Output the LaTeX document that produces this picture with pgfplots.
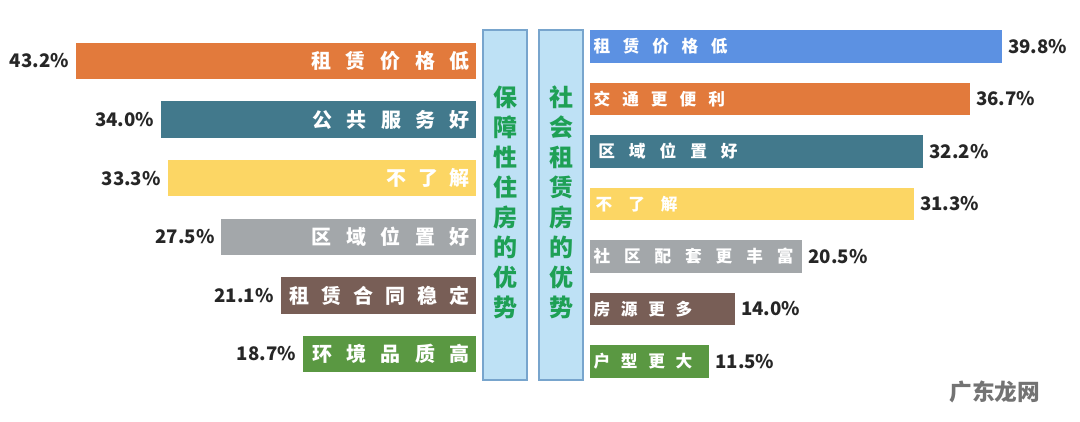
\documentclass[border=0pt]{standalone}
\usepackage{fontspec}
\setmainfont{Noto Sans CJK SC}
\usepackage{pgfplots}
\pgfplotsset{compat=1.18}

\definecolor{orangeC}{RGB}{226,122,60}
\definecolor{tealC}{RGB}{66,121,140}
\definecolor{yellowC}{RGB}{252,214,100}
\definecolor{grayC}{RGB}{163,167,170}
\definecolor{brownC}{RGB}{120,94,86}
\definecolor{greenC}{RGB}{90,152,66}
\definecolor{blueC}{RGB}{92,145,226}
\definecolor{boxfill}{RGB}{190,225,245}
\definecolor{boxdraw}{RGB}{120,165,205}
\definecolor{boxtext}{RGB}{30,160,85}

% spread characters with a gap between them
\def\spread#1#2{\def\sgap{#1}\spreadA#2\relax}
\def\spreadA#1#2{#1\ifx\relax#2\else\hspace{\sgap}\expandafter\spreadA\expandafter#2\fi}

\tikzset{
  lblL/.style={anchor=east, xshift=-4.5pt, inner sep=0pt, text=white,
    font=\fontsize{15pt}{15pt}\selectfont\bfseries},
  lblR/.style={anchor=west, xshift=2.5pt, inner sep=0pt, text=white,
    font=\fontsize{12.5pt}{12.5pt}\selectfont\bfseries},
}

\begin{document}
\begin{tikzpicture}
\path[use as bounding box] (0,0) rectangle (810pt,-315.75pt);

% left: 保障性住房
\begin{axis}[
  at={(357pt,-23.775pt)}, anchor=north east,
  scale only axis, width=347.25pt, height=263.7pt,
  xbar, bar width=27.375pt, bar shift=0pt,
  xmin=0, xmax=50, x dir=reverse,
  ymin=-0.5, ymax=5.5, y dir=reverse,
  hide axis, clip=false,
  point meta=x,
  /pgf/number format/assume math mode=true,
  nodes near coords={\pgfmathprintnumber[fixed,fixed zerofill,precision=1]{\pgfplotspointmeta}\%},
  every node near coord/.append style={anchor=east, inner sep=0pt, xshift=-5pt,
    font=\fontsize{14pt}{14pt}\selectfont\bfseries, text=black!85},
]
\addplot[fill=orangeC, draw=none] coordinates {(43.2,0)};
\addplot[fill=tealC, draw=none] coordinates {(34.0,1)};
\addplot[fill=yellowC, draw=none] coordinates {(33.3,2)};
\addplot[fill=grayC, draw=none] coordinates {(27.5,3)};
\addplot[fill=brownC, draw=none] coordinates {(21.1,4)};
\addplot[fill=greenC, draw=none] coordinates {(18.7,5)};
\node[lblL] at (axis cs:0,0) {\spread{11pt}{租赁价格低}};
\node[lblL] at (axis cs:0,1) {\spread{10.7pt}{公共服务好}};
\node[lblL] at (axis cs:0,2) {\spread{8.6pt}{不了解}};
\node[lblL] at (axis cs:0,3) {\spread{10.9pt}{区域位置好}};
\node[lblL] at (axis cs:0,4) {\spread{9pt}{租赁合同稳定}};
\node[lblL] at (axis cs:0,5) {\spread{10.8pt}{环境品质高}};
\end{axis}

% right: 社会租赁房
\begin{axis}[
  at={(442.5pt,-15.04pt)}, anchor=north west,
  scale only axis, width=349.3pt, height=275.625pt,
  xbar, bar width=24.375pt, bar shift=0pt,
  xmin=0, xmax=45,
  ymin=-0.5, ymax=6.5, y dir=reverse,
  hide axis, clip=false,
  point meta=x,
  /pgf/number format/assume math mode=true,
  nodes near coords={\pgfmathprintnumber[fixed,fixed zerofill,precision=1]{\pgfplotspointmeta}\%},
  every node near coord/.append style={anchor=west, inner sep=0pt, xshift=4.5pt,
    font=\fontsize{14pt}{14pt}\selectfont\bfseries, text=black!85},
]
\addplot[fill=blueC, draw=none] coordinates {(39.8,0)};
\addplot[fill=orangeC, draw=none] coordinates {(36.7,1)};
\addplot[fill=tealC, draw=none] coordinates {(32.2,2)};
\addplot[fill=yellowC, draw=none] coordinates {(31.3,3)};
\addplot[fill=grayC, draw=none] coordinates {(20.5,4)};
\addplot[fill=brownC, draw=none] coordinates {(14.0,5)};
\addplot[fill=greenC, draw=none] coordinates {(11.5,6)};
\node[lblR] at (axis cs:0,0) {\spread{9.5pt}{租赁价格低}};
\node[lblR] at (axis cs:0,1) {\spread{9pt}{交通更便利}};
\node[lblR,xshift=3.5pt] at (axis cs:0,2) {\spread{10.5pt}{区域位置好}};
\node[lblR,xshift=1.5pt] at (axis cs:0,3) {\spread{12pt}{不了解}};
\node[lblR] at (axis cs:0,4) {\spread{10.4pt}{社区配套更丰富}};
\node[lblR] at (axis cs:0,5) {\spread{8pt}{房源更多}};
\node[lblR] at (axis cs:0,6) {\spread{8pt}{户型更大}};
\end{axis}

% middle boxes
\draw[boxdraw, fill=boxfill, line width=0.8pt] (362.25pt,-22.5pt) rectangle (395.25pt,-285pt);
\draw[boxdraw, fill=boxfill, line width=0.8pt] (404.25pt,-22.5pt) rectangle (437.25pt,-285pt);
\node[align=center, inner sep=0pt, text=boxtext, font=\fontsize{18pt}{22.5pt}\selectfont\bfseries]
  at (378.75pt,-151.5pt) {保\\障\\性\\住\\房\\的\\优\\势};
\node[align=center, inner sep=0pt, text=boxtext, font=\fontsize{18pt}{22.5pt}\selectfont\bfseries]
  at (420.75pt,-151.5pt) {社\\会\\租\\赁\\房\\的\\优\\势};

% watermark
\node[text=black!55, font=\fontsize{17pt}{17pt}\selectfont\bfseries] at (746pt,-294pt) {广东龙网};
\end{tikzpicture}
\end{document}
